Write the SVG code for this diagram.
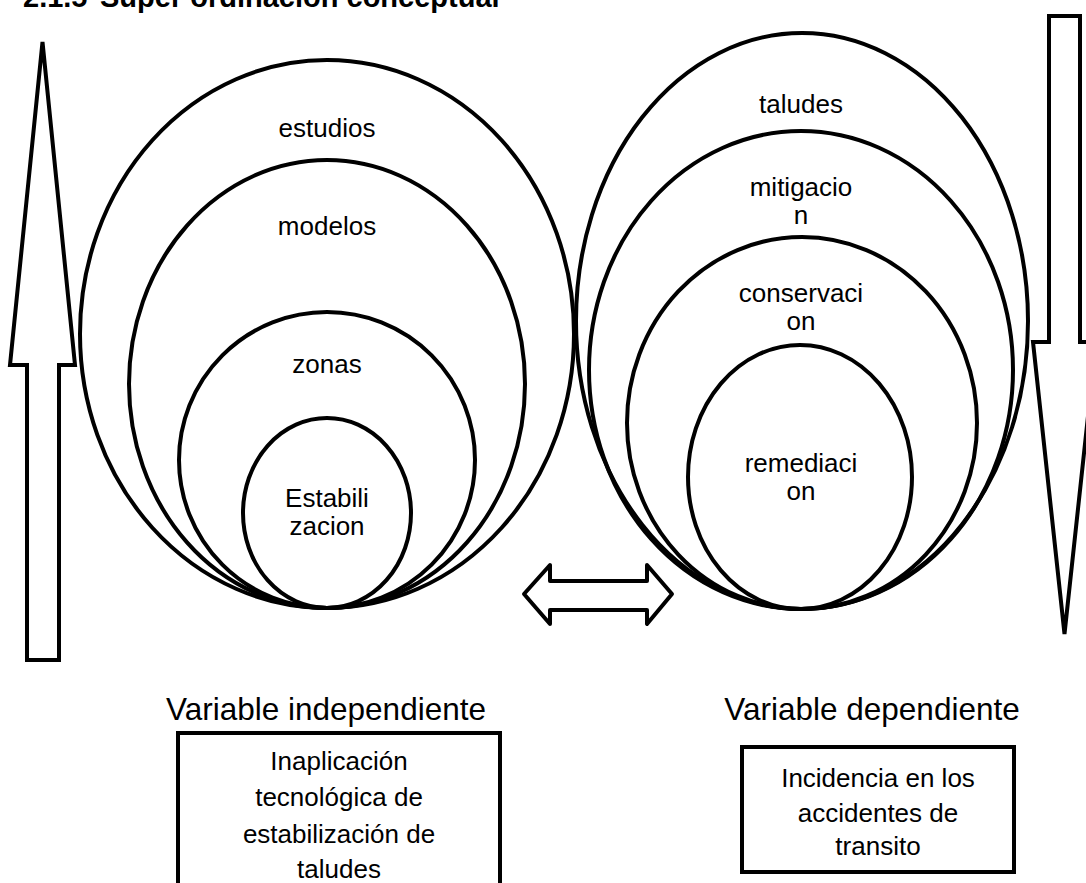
<svg xmlns="http://www.w3.org/2000/svg" width="1086" height="883" viewBox="0 0 1086 883">
<style>
.ln{fill:none;stroke:#000;stroke-width:4}
.arr{fill:#fff;stroke:#000;stroke-width:4;stroke-linejoin:miter}
.lbl{font-family:"Liberation Sans",Arial,sans-serif;font-size:26px;fill:#000;text-anchor:middle}
.hd{font-family:"Liberation Sans",Arial,sans-serif;font-size:31.5px;fill:#000;text-anchor:middle}
.ttl{font-family:"Liberation Sans",Arial,sans-serif;font-size:29px;font-weight:bold;fill:#000}
</style>
<rect width="1086" height="883" fill="#fff"/>
<text class="ttl" x="23" y="7">2.1.5</text>
<text class="ttl" x="100" y="7">Super ordinacion conceptual</text>

<g id="arrow-up"><polygon class="arr" points="42.5,42 75,365 59,365 59,660 27,660 27,365 10,365"/></g>
<g id="arrow-down"><polygon class="arr" points="1049,16 1080,16 1080,342 1096,342 1064.5,634 1033,342 1049,342"/></g>

<g id="left-set">
<g id="estudios"><ellipse class="ln" cx="327" cy="334" rx="247" ry="274"/><text class="lbl" x="327" y="137">estudios</text></g>
<g id="modelos"><ellipse class="ln" cx="327" cy="384" rx="198" ry="224"/><text class="lbl" x="327" y="235">modelos</text></g>
<g id="zonas"><ellipse class="ln" cx="327" cy="460" rx="148" ry="148"/><text class="lbl" x="327" y="373">zonas</text></g>
<g id="estabilizacion"><ellipse class="ln" cx="327" cy="513" rx="84" ry="95"/><text class="lbl" x="327" y="507">Estabili</text><text class="lbl" x="327" y="535">zacion</text></g>
</g>

<g id="right-set">
<g id="taludes"><ellipse class="ln" cx="802" cy="321" rx="226" ry="288"/><text class="lbl" x="801" y="113">taludes</text></g>
<g id="mitigacion"><ellipse class="ln" cx="801" cy="370" rx="212" ry="239"/><text class="lbl" x="801" y="196">mitigacio</text><text class="lbl" x="801" y="224">n</text></g>
<g id="conservacion"><ellipse class="ln" cx="802" cy="423" rx="175" ry="186"/><text class="lbl" x="801" y="302">conservaci</text><text class="lbl" x="801" y="330">on</text></g>
<g id="remediacion"><ellipse class="ln" cx="800" cy="477" rx="112" ry="132"/><text class="lbl" x="801" y="472">remediaci</text><text class="lbl" x="801" y="500">on</text></g>
</g>

<g id="connectors">
<path class="arr" style="stroke-linejoin:round" d="M524,594 L550,565 L550,581 L647,581 L647,565 L672,594 L647,624 L647,610 L550,610 L550,624 Z"/>
</g>

<g id="independiente">
<text class="hd" x="326" y="720">Variable independiente</text>
<rect class="ln" x="178" y="733" width="322" height="200"/>
<text class="lbl" x="339" y="770">Inaplicación</text>
<text class="lbl" x="339" y="806">tecnológica de</text>
<text class="lbl" x="339" y="843">estabilización de</text>
<text class="lbl" x="339" y="878">taludes</text>
</g>

<g id="dependiente">
<text class="hd" x="872" y="720">Variable dependiente</text>
<rect class="ln" x="742" y="747" width="272" height="125"/>
<text class="lbl" x="878" y="787">Incidencia en los</text>
<text class="lbl" x="878" y="822">accidentes de</text>
<text class="lbl" x="878" y="855">transito</text>
</g>
</svg>
